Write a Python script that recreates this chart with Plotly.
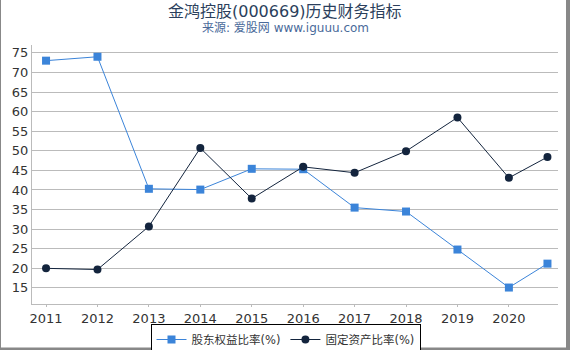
import plotly.graph_objects as go

x_vals = [2011, 2012, 2013, 2014, 2015, 2016, 2017, 2018, 2019, 2020, 2020.75]
equity_ratio = [73.0, 74.0, 40.3, 40.1, 45.4, 45.3, 35.5, 34.5, 24.8, 15.1, 21.2]
fixed_asset_ratio = [20.0, 19.7, 30.7, 50.7, 37.8, 45.9, 44.4, 49.9, 58.5, 43.1, 48.4]
tick_years = [2011, 2012, 2013, 2014, 2015, 2016, 2017, 2018, 2019, 2020]
y_ticks = [15, 20, 25, 30, 35, 40, 45, 50, 55, 60, 65, 70, 75]

W, H = 570, 350
ML, MR, MT, MB = 32, 12, 45, 46
PW, PH = W - ML - MR, H - MT - MB

def px(xp):
    return (xp - ML) / PW

def py(yp):
    return (H - MB - yp) / PH

FONT = "DejaVu Sans, Noto Sans CJK SC, sans-serif"

fig = go.Figure()
fig.add_trace(go.Scatter(
    x=x_vals, y=equity_ratio, name="股东权益比率(%)", mode="lines+markers",
    line=dict(color="#3b84d9", width=1),
    marker=dict(symbol="square", size=8, color="#3b84d9"),
))
fig.add_trace(go.Scatter(
    x=x_vals, y=fixed_asset_ratio, name="固定资产比率(%)", mode="lines+markers",
    line=dict(color="#13243d", width=1),
    marker=dict(symbol="circle", size=8, color="#13243d"),
))

fig.update_layout(
    width=W, height=H,
    margin=dict(l=ML, r=MR, t=MT, b=MB, autoexpand=False),
    paper_bgcolor="white", plot_bgcolor="white",
    font=dict(family=FONT, size=13, color="#333333"),
    showlegend=True,
    legend=dict(
        orientation="h", x=px(285.5), xanchor="center", y=py(324), yanchor="top",
        bordercolor="#000000", borderwidth=1, bgcolor="white",
        font=dict(size=11.5, color="#333333"), itemwidth=30,
        tracegroupgap=0,
    ),
    xaxis=dict(
        range=[2010.727, 2020.955], tickmode="array", tickvals=tick_years,
        ticktext=[str(t) for t in tick_years],
        showgrid=False, showline=True, linecolor="#bbbbbb", linewidth=1,
        ticks="outside", ticklen=2, tickcolor="#bbbbbb", zeroline=False,
        tickfont=dict(size=13, color="#333333"),
    ),
    yaxis=dict(
        range=[10.9, 77.0], tickmode="array", tickvals=y_ticks,
        showgrid=True, gridcolor="#bbbbbb", gridwidth=1,
        showline=True, linecolor="#bbbbbb", linewidth=1, zeroline=False,
        ticks="", tickfont=dict(size=13, color="#333333"),
    ),
    annotations=[
        dict(text="金鸿控股(000669)历史财务指标", xref="paper", yref="paper",
             x=px(285), y=py(11), xanchor="center", yanchor="middle",
             showarrow=False, font=dict(size=16, color="#2b3f5c", family=FONT)),
        dict(text="来源: 爱股网 www.iguuu.com", xref="paper", yref="paper",
             x=px(285), y=py(28), xanchor="center", yanchor="middle",
             showarrow=False, font=dict(size=12, color="#4a6a9a", family=FONT)),
    ],
    shapes=[
        dict(type="line", xref="paper", yref="paper", x0=px(568), x1=px(568), y0=py(0), y1=py(350),
             line=dict(color="#888888", width=4)),
        dict(type="line", xref="paper", yref="paper", x0=px(0), x1=px(570), y0=py(349), y1=py(349),
             line=dict(color="#888888", width=3)),
        dict(type="line", xref="paper", yref="paper", x0=px(0.5), x1=px(0.5), y0=py(0), y1=py(350),
             line=dict(color="#888888", width=1)),
    ],
)

fig.write_html("out.html")
